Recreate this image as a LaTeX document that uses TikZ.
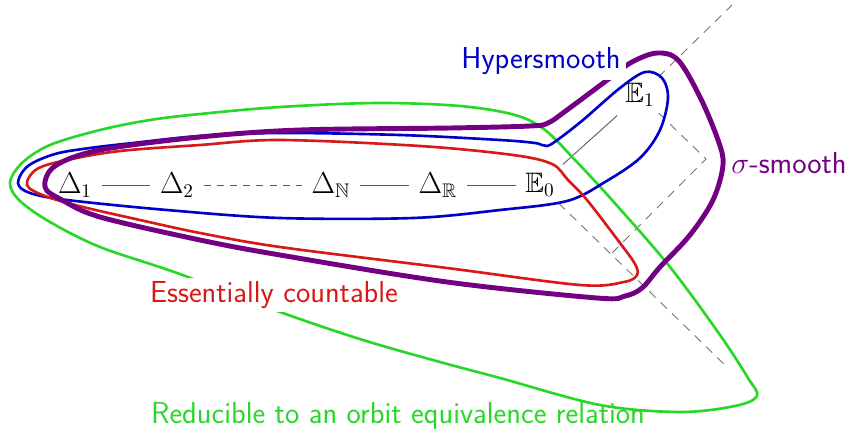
\documentclass[tikz,border=0pt]{standalone}
\usepackage{amsmath, amssymb}
\usepackage{tikz}

\definecolor{orbgreen}{RGB}{40,215,40}
\definecolor{hypblue}{RGB}{0,0,200}
\definecolor{ecred}{RGB}{215,25,25}
\definecolor{sigpurple}{RGB}{115,0,130}

\tikzset{
  link/.style={draw=black!65, line width=0.5pt, shorten >=2pt, shorten <=2pt},
  lattice/.style={draw=black!55, line width=0.5pt, dash pattern=on 5pt off 4pt},
  region/.style={line width=1.5pt},
  tag/.style={font=\LARGE\sffamily, inner sep=2pt}
}

\begin{document}
\begin{tikzpicture}[x=0.2mm, y=-0.2mm, font=\fontsize{16}{19}\selectfont]
  \useasboundingbox (0,0) rectangle (852,442);
  % equivalence relations
  \node (d1) at (75,185) {$\Delta_1$};
  \node (d2) at (177,185) {$\Delta_2$};
  \node (dn) at (331,185) {$\Delta_{\mathbb{N}}$};
  \node (dr) at (438,185) {$\Delta_{\mathbb{R}}$};
  \node (e0) at (540,185) {$\mathbb{E}_0$};
  \node (e1) at (640,95) {$\mathbb{E}_1$};
  \coordinate (up) at (732,5);
  \coordinate (rgt) at (706,159);
  \coordinate (bot) at (612,253);
  \coordinate (low) at (727,367);
  \draw[link] (d1) -- (d2);
  \draw[link, dash pattern=on 4pt off 3.5pt] (d2) -- (dn);
  \draw[link] (dn) -- (dr);
  \draw[link] (dr) -- (e0);
  \draw[link] (e0) -- (e1);
  \draw[lattice] (e1) -- (up);
  \draw[lattice] (e1) -- (rgt) -- (bot);
  \draw[lattice] (e0) -- (low);
  % classes
  \draw[region, orbgreen] plot[smooth cycle, tension=0.55] coordinates {
    (10,183) (22,163) (50,145) (100,130) (150,120) (200,114)
    (280,107) (377,103) (460,106) (515,115) (545,130) (575,160) (612,200)
    (670,267) (720,335) (748,378) (757,396) (735,406) (680,412) (600,405)
    (500,378) (440,362) (363,340) (280,312) (177,273) (100,247) (50,222)
    (20,201)};
  \node[tag, text=ecred, fill=white] (ess) at (274,295) {Essentially countable};
  \draw[region, hypblue] plot[smooth cycle, tension=0.55] coordinates {
    (18,183) (28,166) (55,154) (90,148) (133,143) (200,136) (280,133)
    (400,135) (500,140) (535,143) (547,146) (560,138) (583,120) (620,88)
    (645,72) (662,78) (668,98) (660,130) (640,158) (605,182) (567,201)
    (500,210) (413,218) (280,218) (167,210) (67,200) (30,193)};
  \draw[region, ecred] plot[smooth cycle, tension=0.55] coordinates {
    (27,185) (37,169) (67,160) (120,151) (200,145) (280,140) (420,146)
    (513,155) (552,164) (568,180) (587,200) (620,243) (635,264) (637,275)
    (624,282) (580,285) (447,268) (280,247) (200,233) (140,220) (83,207)
    (45,196)};
  \draw[region, sigpurple, line width=2.8pt] plot[smooth cycle, tension=0.55] coordinates {
    (45,187) (55,166) (100,150) (200,137) (300,130) (450,128) (530,126)
    (548,123) (567,110) (610,78) (632,62) (657,53) (678,60) (700,97)
    (718,140) (723,165) (713,200) (690,235) (660,267) (642,288) (625,296)
    (597,298) (447,282) (280,255) (200,240) (100,217) (62,200)};
  \node[tag, text=hypblue, fill=white, inner sep=3pt] (hyp) at (541,61) {Hypersmooth};
  \node[tag, text=sigpurple] (sig) at (789,163) {$\sigma$-smooth};
  \node[tag, text=orbgreen] (orb) at (398,416) {Reducible to an orbit equivalence relation};
\end{tikzpicture}
\end{document}
